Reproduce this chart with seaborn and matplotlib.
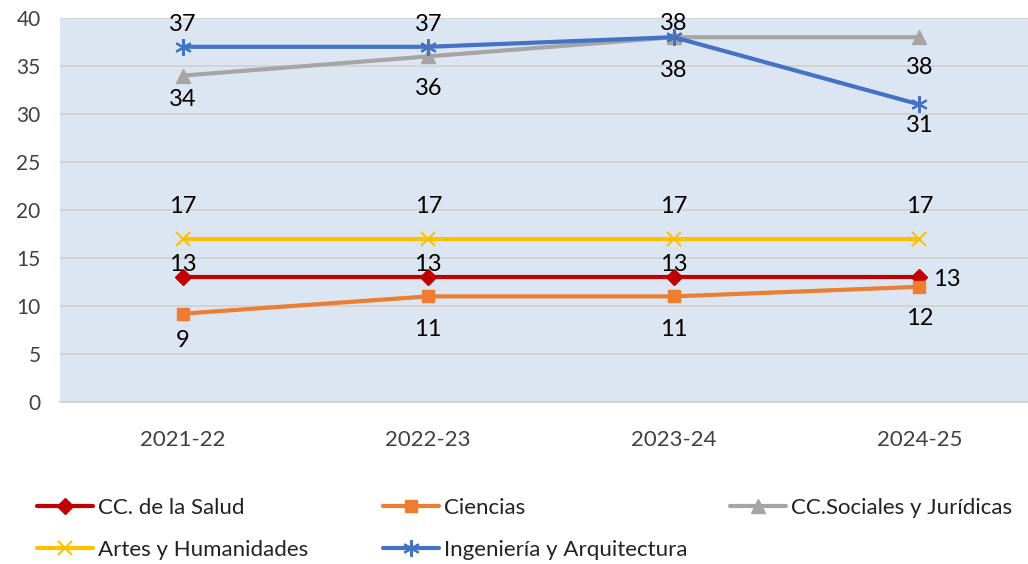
import matplotlib
matplotlib.use("Agg")
import matplotlib.pyplot as plt
from matplotlib.lines import Line2D
import seaborn as sns
import pandas as pd

years = ["2021-22", "2022-23", "2023-24", "2024-25"]
series_names = ["CC. de la Salud", "Ciencias", "CC.Sociales y Jurídicas",
                "Artes y Humanidades", "Ingeniería y Arquitectura"]
salud = [13, 13, 13, 13]
ciencias = [9.2, 11, 11, 12]
sociales = [34, 36, 38, 38]
artes = [17, 17, 17, 17]
ingenieria = [37, 37, 38, 31]
values = [salud, ciencias, sociales, artes, ingenieria]

colors = ["#C00000", "#ED7D31", "#A5A5A5", "#FFC000", "#4472C4"]
markers = ["D", "s", "^", "x", (6, 2, 0)]
msizes = [8, 9, 10, 10, 12]
# label offsets in points (dx, dy) per series per point
offsets = [
    [(0, 9), (0, 9), (0, 9), (20, -2)],
    [(0, -19), (0, -24), (0, -24), (0, -23)],
    [(0, -17), (0, -23), (0, -24), (0, -22)],
    [(0, 23), (0, 23), (0, 23), (0, 23)],
    [(0, 16), (0, 16), (0, 10), (0, -15)],
]
# legend entry positions (figure pixels: left x, center y)
legend_pos = [(37, 508), (383, 508), (730, 508), (37, 550), (383, 550)]

sns.set_theme(style="white")
plt.rcParams["font.family"] = ["Lato", "DejaVu Sans"]

W, H = 1028, 564
fig = plt.figure(figsize=(W / 100, H / 100), dpi=100)
ax = fig.add_axes([60 / W, 1 - 402 / H, 982 / W, 384 / H])
ax.set_facecolor("#DCE6F2")

rows = []
for name, vals in zip(series_names, values):
    for i, v in enumerate(vals):
        rows.append({"serie": name, "x": i, "valor": v})
df = pd.DataFrame(rows)

handles = []
for name, vals, c, m, ms in zip(series_names, values, colors, markers, msizes):
    sub = df[df["serie"] == name]
    mew = 1.5 if (m == "x" or isinstance(m, tuple)) else 1
    sns.lineplot(data=sub, x="x", y="valor", ax=ax, color=c, linewidth=3,
                 marker=m, markersize=ms, markeredgecolor=c, markerfacecolor=c,
                 markeredgewidth=mew, legend=False, zorder=3)
    handles.append(Line2D([], [], color=c, linewidth=3, marker=m, markersize=ms,
                          markeredgecolor=c, markerfacecolor=c, markeredgewidth=mew))

for vals, offs in zip(values, offsets):
    for i, (v, (dx, dy)) in enumerate(zip(vals, offs)):
        ax.annotate(f"{v:.0f}", (i, v), xytext=(dx, dy), textcoords="offset points",
                    ha="center", va="center", fontsize=17, color="black", zorder=5)

ax.set_xlim(-0.5, 3.5)
ax.set_ylim(0, 40)
ax.set_yticks(range(0, 41, 5))
ax.set_xticks(range(4))
ax.set_xticklabels(years)
ax.grid(axis="y", color="#D0D0D0", linewidth=1.2)
ax.set_axisbelow(True)
for s in ["top", "right", "left"]:
    ax.spines[s].set_visible(False)
ax.spines["bottom"].set_color("#D0D0D0")
ax.spines["bottom"].set_linewidth(1.2)
ax.tick_params(axis="x", length=0, labelsize=16, colors="#404040", pad=20)
ax.tick_params(axis="y", length=0, labelsize=15, colors="#404040", pad=14)
ax.set_xlabel("")
ax.set_ylabel("")

for h, name, (px, py) in zip(handles, series_names, legend_pos):
    leg = fig.legend([h], [name], loc="center left",
                     bbox_to_anchor=(px / W, 1 - py / H),
                     frameon=False, fontsize=16, handlelength=2.5,
                     handletextpad=0.25, borderpad=0, borderaxespad=0,
                     labelcolor="#222222")

fig.savefig("out.png", dpi=100)
